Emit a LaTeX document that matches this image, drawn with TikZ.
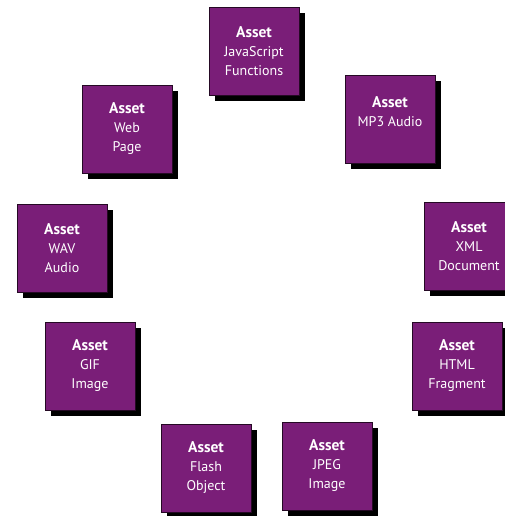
\documentclass[tikz,border=0pt]{standalone}
\usepackage{fontspec}
\setmainfont{PT Sans}
\usetikzlibrary{shadows}

\definecolor{assetpurple}{RGB}{122,30,120}
\newcommand{\assethead}{{\fontsize{15.5}{19}\selectfont\bfseries Asset}}

\begin{document}
\begin{tikzpicture}[x=1pt,y=-1pt,
  asset/.style={draw=black!70!assetpurple, line width=0.6pt, fill=assetpurple,
    minimum width=90pt, minimum height=88pt, inner sep=0pt,
    text=white, align=center, font=\fontsize{14}{19}\selectfont,
    drop shadow={shadow xshift=6pt, shadow yshift=-6pt, fill=black, opacity=1}}]

\useasboundingbox (0,0) rectangle (504,516);

%% assets
\node[asset] (js)    at (254,51)  {\assethead\\JavaScript\\Functions};   %% top
\node[asset] (mp3)   at (390,119) {\assethead\\MP3 Audio\\[-4pt]\mbox{}};
\node[asset] (web)   at (127,129) {\assethead\\Web\\Page};
\node[asset] (xml)   at (469,246) {\assethead\\XML\\Document};
\node[asset] (wav)   at (62,248)  {\assethead\\WAV\\Audio};
\node[asset] (gif)   at (90,366)  {\assethead\\GIF\\Image};
\node[asset] (html)  at (457,366) {\assethead\\HTML\\Fragment};
\node[asset] (flash) at (206,468) {\assethead\\Flash\\Object};
\node[asset] (jpeg)  at (327,466) {\assethead\\JPEG\\Image};      %% bottom

\end{tikzpicture}
\end{document}
